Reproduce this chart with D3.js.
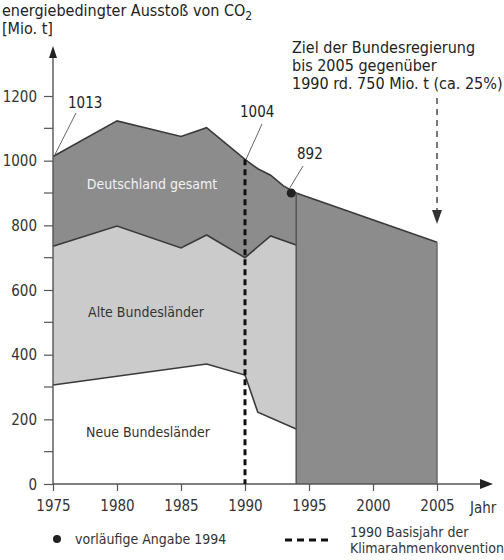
<!DOCTYPE html>
<html><head><meta charset="utf-8">
<script src="https://cdn.jsdelivr.net/npm/d3@7"></script>
<style>
body{margin:0;background:#fff;}
text{font-family:"Liberation Sans Narrow","DejaVu Sans Condensed","Noto Sans",sans-serif;}
</style></head>
<body><svg id="c" width="504" height="560"></svg>
<script>
// ---- data ----
const totalYears = [1975, 1980, 1985, 1987, 1990, 1991, 1992, 1993, 1994, 2005];
const totalVals  = [1013, 1123, 1075, 1102, 1004, 975, 955, 922, 900, 748];
const alteYears  = [1975, 1980, 1985, 1987, 1990, 1992, 1994];
const alteVals   = [735, 798, 730, 770, 700, 767, 739];
const neueYears  = [1975, 1980, 1987, 1990, 1991, 1994];
const neueVals   = [306, 333, 371, 337, 222, 170];
const xTickYears = [1975, 1980, 1985, 1990, 1995, 2000, 2005];
const yTicks     = [0, 200, 400, 600, 800, 1000, 1200];
const yMinor     = [100, 300, 500, 700, 900, 1100];
const baseYear = 1990, prelimYear = 1994, targetYear = 2005;

const svg = d3.select("#c");
const x = d3.scaleLinear().domain([1975, 2005]).range([53, 437]);
const y = d3.scaleLinear().domain([0, 1200]).range([484, 96]);

const tot = totalYears.map((d,i)=>({yr:d,v:totalVals[i]}));
const alt = alteYears.map((d,i)=>({yr:d,v:alteVals[i]}));
const neu = neueYears.map((d,i)=>({yr:d,v:neueVals[i]}));

const area = d3.area().x(d=>x(d.yr)).y0(y(0)).y1(d=>y(d.v));
const line = d3.line().x(d=>x(d.yr)).y(d=>y(d.v));

svg.append("path").datum(tot).attr("d", area).attr("fill", "#8c8c8c");
svg.append("path").datum(alt).attr("d", area).attr("fill", "#cbcbcb");
svg.append("path").datum(neu).attr("d", area).attr("fill", "#ffffff");

const lc = "#3a3a3a";
svg.append("path").datum(tot).attr("d", line).attr("fill","none").attr("stroke",lc).attr("stroke-width",1.6);
svg.append("path").datum(alt).attr("d", line).attr("fill","none").attr("stroke",lc).attr("stroke-width",1.6);
svg.append("path").datum(neu).attr("d", line).attr("fill","none").attr("stroke",lc).attr("stroke-width",1.6);
// vertical edges
const lastAlt = alt[alt.length-1];
svg.append("line").attr("x1",x(lastAlt.yr)).attr("x2",x(lastAlt.yr)).attr("y1",y(0)).attr("y2",y(tot[8].v))
  .attr("stroke","#555").attr("stroke-width",1.5);
svg.append("line").attr("x1",x(targetYear)).attr("x2",x(targetYear)).attr("y1",y(0)).attr("y2",y(totalVals[totalVals.length-1]))
  .attr("stroke","#6a6a6a").attr("stroke-width",1.5);

// axes
const ac = "#555";
const yAxis = svg.append("g").attr("transform",`translate(${x(1975)},0)`)
  .call(d3.axisLeft(y).tickValues(yTicks).tickSize(9).tickPadding(7).tickFormat(d3.format("d")));
yAxis.select(".domain").remove();
yAxis.selectAll(".tick line").attr("stroke",ac).attr("stroke-width",1.2);
yAxis.selectAll(".tick text").attr("font-size",15).attr("fill","#333").attr("dy","0.35em");
svg.append("g").selectAll("line").data(yMinor).join("line")
  .attr("x1",x(1975)-9).attr("x2",x(1975)).attr("y1",d=>y(d)).attr("y2",d=>y(d)).attr("stroke",ac).attr("stroke-width",1.2);

const xAxis = svg.append("g").attr("transform",`translate(0,${y(0)})`)
  .call(d3.axisBottom(x).tickValues(xTickYears).tickSize(7).tickPadding(9).tickFormat(d3.format("d")));
xAxis.select(".domain").remove();
xAxis.selectAll(".tick line").attr("stroke",ac).attr("stroke-width",1.2);
xAxis.selectAll(".tick text").attr("font-size",15).attr("fill","#333");

// axis lines with arrows
svg.append("line").attr("x1",x(1975)).attr("x2",x(1975)).attr("y1",y(0)).attr("y2",52).attr("stroke",ac).attr("stroke-width",1.4);
svg.append("path").attr("d",`M${x(1975)-4},${58}L${x(1975)},${46}L${x(1975)+4},${58}Z`).attr("fill","#222");
svg.append("line").attr("x1",x(1975)).attr("x2",484).attr("y1",y(0)).attr("y2",y(0)).attr("stroke",ac).attr("stroke-width",1.4);
svg.append("path").attr("d",`M480,${y(0)-5}L493,${y(0)}L480,${y(0)+5}Z`).attr("fill","#222");
svg.append("text").attr("x",470).attr("y",513).attr("font-size",15).attr("fill","#333").text("Jahr");

// 1990 base-year dashed line
const totBase = totalVals[totalYears.indexOf(baseYear)];
svg.append("line").attr("x1",x(baseYear)).attr("x2",x(baseYear)).attr("y1",y(totBase)).attr("y2",y(0))
  .attr("stroke","#111").attr("stroke-width",3).attr("stroke-dasharray","6,4");

// preliminary dot
const totPre = totalVals[totalYears.indexOf(prelimYear)];
svg.append("circle").attr("cx",x(prelimYear)-5).attr("cy",y(totPre)).attr("r",4.5).attr("fill","#222");

// value labels with leader lines
const lbl = (tx,ty,t)=>svg.append("text").attr("x",tx).attr("y",ty).attr("font-size",15).attr("fill","#222").text(t);
const lead = (x1,y1,x2,y2)=>svg.append("line").attr("x1",x1).attr("y1",y1).attr("x2",x2).attr("y2",y2).attr("stroke","#666").attr("stroke-width",1);
lbl(68,108,"1013"); lead(76,113,x(1975)+2,y(totalVals[0])-2);
lbl(240,117,"1004"); lead(262,124,x(baseYear)+1,y(totBase));
lbl(297,159,"892"); lead(303,166,x(prelimYear)-7,y(totPre)-4);

// area labels
svg.append("text").attr("x",152).attr("y",189).attr("text-anchor","middle").attr("font-size",14).attr("fill","#f2f2f2").text("Deutschland gesamt");
svg.append("text").attr("x",146).attr("y",317).attr("text-anchor","middle").attr("font-size",14).attr("fill","#333").text("Alte Bundesländer");
svg.append("text").attr("x",148).attr("y",437).attr("text-anchor","middle").attr("font-size",14).attr("fill","#333").text("Neue Bundesländer");

// title
const t1 = svg.append("text").attr("x",2).attr("y",16).attr("font-size",16).attr("fill","#222");
t1.append("tspan").text("energiebedingter Ausstoß von CO");
t1.append("tspan").attr("dy",4).attr("font-size",12).text("2");
svg.append("text").attr("x",2).attr("y",34).attr("font-size",16).attr("fill","#222").text("[Mio. t]");

// target annotation
const ann = ["Ziel der Bundesregierung","bis 2005 gegenüber","1990 rd. 750 Mio. t (ca. 25%)"];
svg.append("g").selectAll("text").data(ann).join("text")
  .attr("x",292).attr("y",(d,i)=>53+i*18).attr("font-size",16).attr("fill","#222").text(d=>d);
svg.append("line").attr("x1",x(targetYear)).attr("x2",x(targetYear)).attr("y1",98).attr("y2",212)
  .attr("stroke","#777").attr("stroke-width",2).attr("stroke-dasharray","6,5");
svg.append("path").attr("d",`M${x(targetYear)-5},210L${x(targetYear)},224L${x(targetYear)+5},210Z`).attr("fill","#333");

// legend
svg.append("circle").attr("cx",57).attr("cy",539).attr("r",4).attr("fill","#222");
svg.append("text").attr("x",75).attr("y",544).attr("font-size",14).attr("fill","#333").text("vorläufige Angabe 1994");
svg.append("line").attr("x1",285).attr("x2",332).attr("y1",540).attr("y2",540).attr("stroke","#111").attr("stroke-width",3).attr("stroke-dasharray","7,5");
svg.append("text").attr("x",350).attr("y",537).attr("font-size",14).attr("fill","#333").text("1990 Basisjahr der");
svg.append("text").attr("x",350).attr("y",553).attr("font-size",14).attr("fill","#333").text("Klimarahmenkonvention");
</script></body></html>
